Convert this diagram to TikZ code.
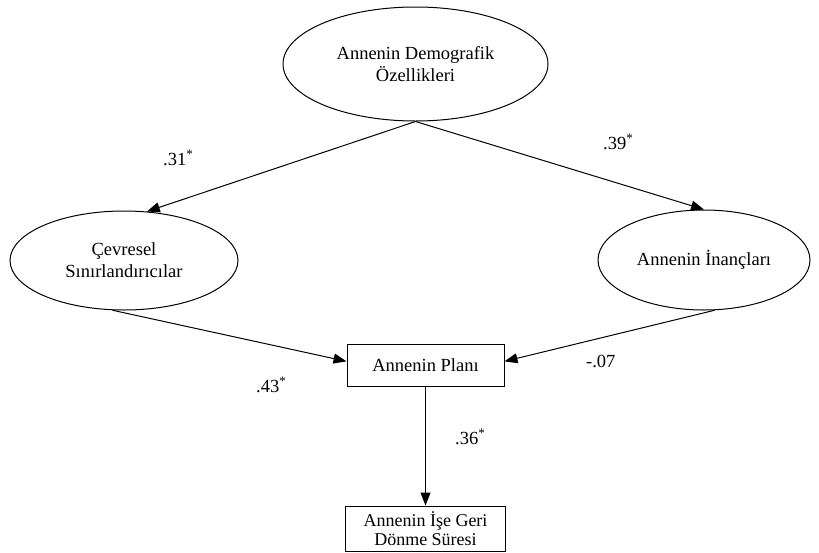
\documentclass[tikz,border=0pt]{standalone}
\usepackage{fontspec}
\setmainfont{Liberation Serif}
\usetikzlibrary{shapes.geometric,arrows.meta}
\begin{document}
\begin{tikzpicture}[x=1pt,y=-1pt,
  every node/.style={font=\fontsize{18.5}{22}\selectfont},
  oval/.style={draw,ellipse,line width=1pt,inner sep=0pt,align=center},
  box/.style={draw,rectangle,line width=1pt,inner sep=0pt,align=center},
  conn/.style={line width=1pt,-{Triangle[length=13pt,width=10pt]}},
  lbl/.style={anchor=base west,inner sep=0pt}]
\useasboundingbox (0,0) rectangle (819,552);
\node[oval,minimum width=265,minimum height=114] (dem) at (415.5,64) {Annenin Demografik\\Özellikleri};
\node[oval,minimum width=228,minimum height=99] (cev) at (124,260.5) {Çevresel\\Sınırlandırıcılar};
\node[oval,minimum width=212,minimum height=100] (inc) at (704,260) {Annenin İnançları};
\node[box,minimum width=157,minimum height=42] (plan) at (425.5,365.5) {Annenin Planı};
\node[box,minimum width=160,minimum height=45.5,font=\fontsize{18}{19.5}\selectfont] (sure) at (425.5,528.75) {Annenin İşe Geri\\Dönme Süresi};
\draw[conn] (dem.south) -- (cev.65);
\draw[conn] (dem.south) -- (inc.north);
\draw[conn] (cev.257) -- (plan.177);
\draw[conn] (inc.282) -- (plan.3);
\draw[conn] (plan.south) -- (plan.south |- sure.north);
\node[lbl] (l31) at (163,165) {.31\textsuperscript{*}};
\node[lbl] (l39) at (603,149) {.39\textsuperscript{*}};
\node[lbl] (l43) at (256,392) {.43\textsuperscript{*}};
\node[lbl] (l07) at (586,367) {-.07};
\node[lbl] (l36) at (455,444) {.36\textsuperscript{*}};
\end{tikzpicture}
\end{document}
